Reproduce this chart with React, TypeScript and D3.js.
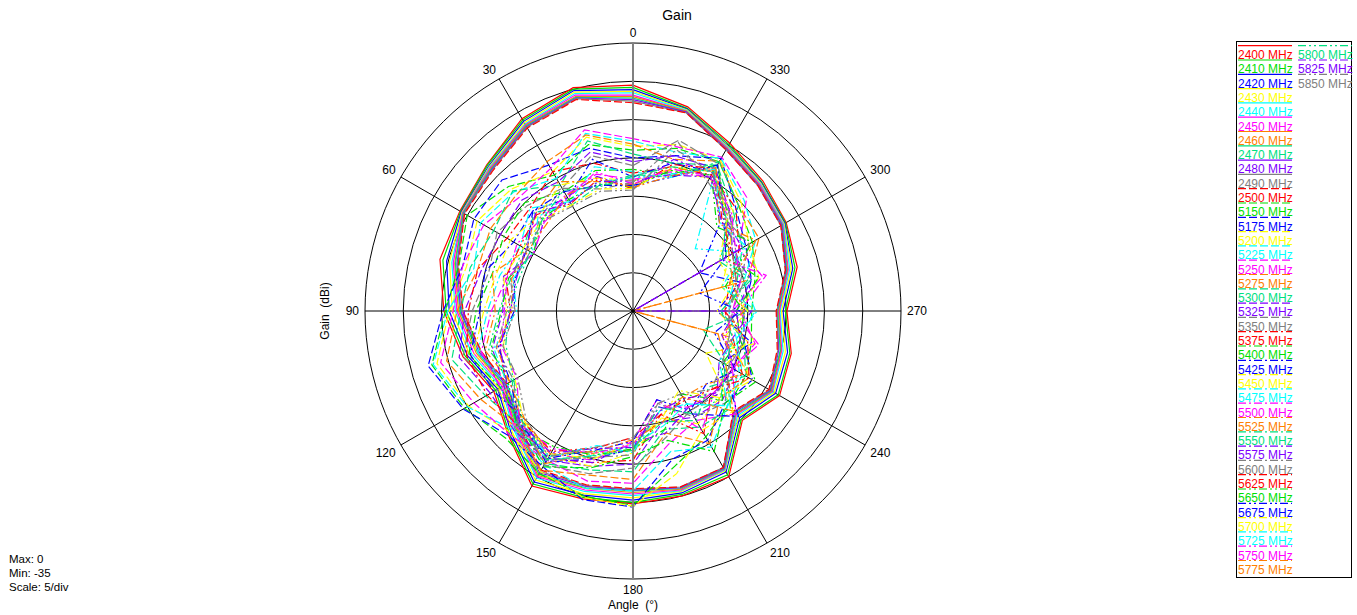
import React from 'react';
import * as d3 from 'd3';

// measurement angles (deg), counter-clockwise from top
const angles = [0, 15, 30, 45, 60, 75, 90, 105, 120, 135, 150, 165, 180, 195, 210, 225, 240, 255, 270, 285, 300, 315, 330, 345];
const angleTicks = [0, 30, 60, 90, 120, 150, 180, 210, 240, 270, 300, 330];
const ringTicks = [-30, -25, -20, -15, -10, -5, 0];

const freqLabels = [
  '2400 MHz', '2410 MHz', '2420 MHz', '2430 MHz', '2440 MHz', '2450 MHz', '2460 MHz', '2470 MHz', '2480 MHz', '2490 MHz', '2500 MHz',
  '5150 MHz', '5175 MHz', '5200 MHz', '5225 MHz', '5250 MHz', '5275 MHz', '5300 MHz', '5325 MHz', '5350 MHz', '5375 MHz',
  '5400 MHz', '5425 MHz', '5450 MHz', '5475 MHz', '5500 MHz', '5525 MHz', '5550 MHz', '5575 MHz', '5600 MHz', '5625 MHz',
  '5650 MHz', '5675 MHz', '5700 MHz', '5725 MHz', '5750 MHz', '5775 MHz', '5800 MHz', '5825 MHz', '5850 MHz',
];

// gain (dBi) per angle
const g2400 = [-5.5, -4.8, -6.0, -8.0, -8.9, -8.9, -10.3, -12.0, -14.0, -12.0, -8.6, -9.6, -9.8, -10.0, -10.0, -14.8, -12.9, -13.6, -14.9, -12.8, -11.9, -11.0, -9.7, -7.4];
const g2410 = [-5.8, -5.0, -6.2, -8.1, -9.0, -9.3, -10.6, -12.3, -14.3, -12.2, -8.9, -9.8, -10.0, -10.2, -10.3, -15.0, -13.1, -13.8, -15.1, -13.1, -12.0, -11.2, -9.9, -7.6];
const g2420 = [-6.1, -5.2, -6.4, -8.3, -9.1, -9.8, -11.0, -12.6, -14.6, -12.5, -9.2, -10.1, -10.3, -10.4, -10.7, -15.3, -13.5, -14.1, -15.4, -13.4, -12.1, -11.3, -10.1, -7.7];
const g2430 = [-6.3, -5.4, -6.6, -8.4, -9.2, -10.2, -11.4, -12.9, -14.8, -12.7, -9.5, -10.3, -10.6, -10.6, -10.9, -15.5, -13.7, -14.4, -15.6, -13.6, -12.2, -11.4, -10.2, -7.8];
const g2440 = [-6.5, -5.6, -6.8, -8.5, -9.3, -10.5, -11.8, -13.2, -15.1, -13.0, -9.8, -10.6, -10.9, -10.7, -11.0, -15.7, -13.9, -14.7, -15.8, -13.8, -12.3, -11.5, -10.3, -7.9];
const g2450 = [-6.8, -5.8, -6.9, -8.6, -9.3, -10.7, -12.0, -13.5, -15.3, -13.2, -10.0, -10.8, -11.1, -10.8, -11.1, -15.9, -14.0, -14.9, -15.9, -14.0, -12.4, -11.6, -10.4, -8.0];
const g2460 = [-7.0, -6.0, -7.0, -8.7, -9.4, -10.9, -12.2, -13.8, -15.5, -13.4, -10.2, -11.0, -11.3, -10.9, -11.2, -16.0, -14.1, -15.0, -16.0, -14.1, -12.5, -11.7, -10.5, -8.0];
const g2470 = [-7.2, -6.1, -7.1, -8.8, -9.4, -11.0, -12.4, -14.0, -15.6, -13.6, -10.4, -11.1, -11.5, -11.0, -11.2, -16.1, -14.2, -15.1, -16.1, -14.2, -12.5, -11.8, -10.6, -8.1];
const g2480 = [-7.4, -6.2, -7.2, -8.9, -9.5, -11.2, -12.5, -14.2, -15.8, -13.8, -10.6, -11.3, -11.6, -11.1, -11.3, -16.3, -14.3, -15.3, -16.2, -14.3, -12.6, -11.8, -10.6, -8.1];
const g2490 = [-7.6, -6.3, -7.3, -9.0, -9.5, -11.3, -12.7, -14.4, -15.9, -13.9, -10.8, -11.4, -11.7, -11.2, -11.4, -16.4, -14.4, -15.4, -16.2, -14.4, -12.7, -11.9, -10.7, -8.2];
const g2500 = [-7.8, -6.4, -7.4, -9.1, -9.6, -11.4, -12.8, -14.5, -16.0, -14.0, -11.0, -11.5, -11.8, -11.2, -11.4, -16.5, -14.5, -15.5, -16.3, -14.4, -12.7, -11.9, -10.7, -8.2];
const g5150 = [-14.0, -12.5, -14.5, -12.0, -10.0, -11.5, -10.5, -7.8, -9.6, -11.5, -10.5, -10.0, -9.6, -14.0, -16.0, -17.5, -18.0, -19.0, -19.5, -18.5, -17.0, -15.5, -12.5, -13.0];
const g5175 = [-15.0, -13.0, -13.0, -10.8, -11.0, -12.0, -10.2, -7.3, -9.4, -12.0, -11.5, -9.5, -9.4, -15.0, -15.5, -18.0, -17.0, -20.0, -20.5, -19.0, -18.0, -16.0, -12.0, -14.0];
const g5200 = [-13.5, -11.5, -14.0, -12.5, -11.5, -12.5, -11.0, -8.5, -10.2, -12.5, -10.8, -9.8, -9.5, -13.0, -17.0, -16.5, -24.0, -18.5, -21.0, -18.0, -17.5, -15.0, -12.2, -12.5];
const g5225 = [-12.8, -11.0, -15.0, -13.0, -12.0, -13.5, -10.8, -8.0, -10.0, -13.0, -11.8, -11.0, -11.5, -16.0, -14.5, -17.5, -18.5, -21.0, -19.0, -20.0, -16.5, -14.5, -12.0, -13.5];
const g5250 = [-12.5, -10.5, -13.5, -14.0, -12.5, -12.0, -11.5, -9.0, -11.0, -12.2, -12.5, -12.0, -12.5, -17.0, -18.5, -16.0, -20.0, -18.0, -22.0, -17.5, -19.0, -14.0, -11.8, -12.8];
const g5275 = [-13.2, -11.2, -12.5, -13.5, -13.5, -14.0, -12.0, -9.8, -12.0, -13.5, -11.0, -12.8, -13.0, -18.5, -15.0, -19.0, -17.5, -22.0, -35.0, -19.5, -16.0, -15.5, -12.4, -14.5];
const g5300 = [-14.5, -12.0, -16.0, -12.8, -14.0, -13.0, -12.5, -10.5, -12.8, -14.0, -12.0, -13.5, -14.0, -19.0, -17.5, -17.0, -21.0, -25.5, -20.0, -21.0, -18.5, -16.5, -13.0, -15.0];
const g5325 = [-15.5, -13.5, -15.5, -14.5, -15.0, -14.5, -13.0, -11.5, -13.5, -13.0, -12.5, -14.0, -15.0, -20.0, -19.0, -18.5, -19.5, -23.0, -21.5, -19.0, -20.0, -17.0, -13.5, -14.0];
const g5350 = [-16.0, -14.0, -16.5, -15.5, -14.5, -15.5, -14.0, -12.0, -14.5, -14.5, -11.8, -13.0, -14.5, -18.0, -20.0, -19.5, -20.5, -20.0, -22.5, -20.5, -17.5, -18.0, -12.8, -11.9];
const g5375 = [-17.0, -15.0, -14.0, -16.0, -16.0, -14.0, -13.5, -12.5, -13.0, -13.8, -12.8, -14.5, -15.5, -21.0, -16.5, -20.5, -18.5, -21.5, -23.0, -22.0, -19.0, -16.0, -14.5, -15.5];
const g5400 = [-16.5, -16.0, -17.0, -15.0, -15.5, -16.0, -14.5, -12.8, -15.0, -14.2, -11.5, -13.8, -16.0, -17.5, -13.8, -18.0, -16.5, -20.5, -21.5, -18.0, -21.0, -17.5, -13.0, -16.5];
const g5425 = [-17.5, -14.5, -18.0, -16.5, -17.0, -15.0, -15.0, -13.0, -14.0, -15.0, -12.2, -15.0, -17.0, -22.0, -19.5, -15.5, -21.5, -19.0, -24.0, -20.5, -25.0, -19.0, -14.0, -15.0];
const g5450 = [-18.0, -17.0, -16.0, -17.5, -16.5, -16.5, -15.5, -13.5, -15.5, -14.8, -13.0, -14.0, -16.5, -20.5, -18.0, -19.0, -17.0, -22.5, -20.0, -23.0, -20.5, -16.5, -15.0, -16.0];
const g5475 = [-16.8, -15.5, -18.5, -16.0, -18.0, -17.0, -16.0, -14.0, -16.0, -14.0, -12.5, -15.5, -17.5, -19.5, -21.0, -17.5, -19.0, -21.0, -22.5, -21.5, -19.5, -23.5, -13.2, -17.0];
const g5500 = [-17.8, -16.5, -17.5, -18.0, -17.5, -18.0, -16.5, -14.5, -15.0, -13.5, -13.5, -14.8, -18.0, -23.0, -17.0, -20.0, -20.0, -18.5, -21.0, -17.0, -21.5, -17.5, -14.8, -16.2];
const g5525 = [-18.5, -17.5, -15.5, -17.0, -19.0, -16.0, -17.0, -15.0, -16.5, -14.5, -12.0, -15.8, -16.8, -21.5, -22.0, -16.5, -21.0, -23.5, -35.0, -22.0, -16.5, -19.0, -13.8, -15.8];
const g5550 = [-17.2, -18.0, -19.0, -16.8, -18.5, -18.5, -17.5, -15.5, -16.8, -13.2, -13.2, -16.0, -17.2, -20.0, -18.5, -21.0, -18.0, -20.0, -23.5, -19.5, -22.0, -15.5, -12.5, -16.8];
const g5575 = [-19.0, -16.8, -17.8, -18.5, -20.0, -17.5, -18.0, -16.0, -15.5, -14.0, -12.8, -14.5, -17.8, -18.5, -20.5, -19.5, -22.0, -21.5, -19.5, -35.0, -18.5, -18.0, -14.2, -14.5];
const g5600 = [-18.2, -18.5, -16.5, -17.8, -19.5, -19.0, -18.5, -16.5, -17.0, -13.8, -12.5, -15.2, -16.2, -22.5, -19.0, -18.0, -20.5, -22.0, -22.0, -20.0, -19.5, -17.0, -15.5, -12.2];
const g5625 = [-19.0, -17.2, -18.8, -17.2, -18.0, -17.8, -19.0, -17.0, -15.8, -14.6, -13.8, -16.5, -18.5, -21.0, -21.5, -20.5, -17.5, -19.5, -23.0, -21.0, -20.0, -18.5, -13.5, -15.2];
const g5650 = [-18.8, -17.8, -18.2, -18.0, -20.0, -18.2, -17.8, -15.8, -16.2, -13.6, -14.5, -15.5, -17.0, -19.0, -22.5, -18.5, -21.5, -20.5, -20.5, -22.5, -17.0, -19.5, -14.5, -16.0];
const g5675 = [-18.6, -18.0, -17.0, -16.5, -19.0, -19.0, -19.5, -16.8, -16.5, -14.2, -12.8, -16.2, -18.0, -23.0, -20.0, -21.5, -19.5, -24.0, -21.0, -26.0, -21.0, -18.2, -13.0, -17.0];
const g5700 = [-19.0, -18.5, -19.0, -18.2, -18.5, -17.5, -18.5, -17.5, -17.2, -14.8, -13.5, -15.0, -17.8, -20.5, -23.0, -19.0, -21.0, -19.5, -24.0, -21.5, -22.0, -17.5, -14.0, -15.5];
const g5725 = [-17.6, -17.5, -18.5, -17.5, -19.8, -18.8, -19.8, -16.2, -16.0, -14.4, -13.0, -16.8, -16.5, -21.5, -21.0, -17.5, -22.0, -21.0, -18.8, -23.0, -18.0, -18.8, -13.6, -16.5];
const g5750 = [-18.4, -16.2, -18.0, -18.6, -20.0, -18.0, -18.2, -17.2, -17.5, -14.0, -14.2, -15.8, -17.5, -22.0, -20.5, -20.0, -20.0, -22.5, -22.0, -20.5, -19.5, -16.8, -14.6, -15.8];
const g5775 = [-18.9, -17.0, -17.6, -19.0, -19.2, -18.6, -19.2, -16.6, -16.4, -15.0, -13.4, -16.0, -18.2, -20.0, -22.0, -21.5, -18.5, -23.0, -20.5, -21.5, -20.5, -18.0, -13.4, -16.8];
const g5800 = [-17.4, -18.2, -16.8, -18.2, -19.5, -19.5, -18.8, -17.8, -17.0, -14.6, -12.6, -15.4, -16.8, -22.0, -19.5, -18.8, -21.0, -21.5, -23.5, -19.0, -21.5, -17.8, -14.0, -15.5];
const g5825 = [-18.0, -17.5, -18.6, -17.0, -18.8, -19.2, -19.0, -17.0, -16.0, -14.2, -13.6, -16.4, -17.2, -21.5, -21.8, -19.8, -19.8, -20.5, -21.5, -35.0, -19.0, -18.6, -14.8, -16.6];
const g5850 = [-19.2, -18.8, -19.2, -18.4, -19.0, -18.4, -19.6, -17.4, -17.6, -15.2, -13.0, -16.6, -18.4, -22.5, -22.5, -20.5, -21.5, -22.0, -22.5, -21.0, -20.0, -17.2, -14.2, -13.2];

const seriesValues = [
  g2400, g2410, g2420, g2430, g2440, g2450, g2460, g2470, g2480, g2490, g2500,
  g5150, g5175, g5200, g5225, g5250, g5275, g5300, g5325, g5350, g5375,
  g5400, g5425, g5450, g5475, g5500, g5525, g5550, g5575, g5600, g5625,
  g5650, g5675, g5700, g5725, g5750, g5775, g5800, g5825, g5850,
];

const palette = ['#ff0000', '#00e000', '#0000ff', '#ffff00', '#00ffff', '#ff00ff', '#ff8000', '#00e080', '#8000ff', '#808080'];
const dashes = ['none', '8,3', '8,3,2,3', '8,3,2,3,2,3'];

const W = 1357;
const H = 615;
const cx = 633;
const cy = 311;
const R = 268;
const font = 'Arial, "Liberation Sans", sans-serif';

export default function App() {
  const rScale = d3.scaleLinear().domain([-35, 0]).range([0, R]).clamp(true);
  const toRad = (deg: number) => (deg * Math.PI) / 180;

  const line = d3
    .lineRadial<number>()
    .angle((d, i) => -toRad(angles[i]))
    .radius((d) => rScale(d))
    .curve(d3.curveLinearClosed);

  const colorOf = (i: number) => palette[i % palette.length];
  const dashOf = (i: number) => dashes[Math.floor(i / 10)];

  const rowH = 14.3;
  const legTop = 45.7;

  return (
    <svg width={W} height={H} style={{ position: 'absolute', left: 0, top: 0, background: '#fff' }} fontFamily={font}>
      <text x={677} y={20} fontSize={14} textAnchor="middle">Gain</text>

      <g transform={`translate(${cx},${cy})`}>
        {ringTicks.map((t) => (
          <circle key={t} r={rScale(t)} fill="none" stroke="#000" strokeWidth={1} />
        ))}
        {angleTicks.map((a) => {
          const th = toRad(a);
          return (
            <line key={a} x1={0} y1={0} x2={-R * Math.sin(th)} y2={-R * Math.cos(th)} stroke="#000" strokeWidth={1} />
          );
        })}
        {seriesValues.map((vals, i) => (
          <path
            key={freqLabels[i]}
            d={line(vals) || ''}
            fill="none"
            stroke={colorOf(i)}
            strokeWidth={1.2}
            strokeDasharray={dashOf(i)}
          />
        ))}
        <line x1={0} y1={-R} x2={0} y2={R} stroke="#808080" strokeWidth={2} />
        <circle r={2} fill="#000" />
        {angleTicks.map((a) => {
          const th = toRad(a);
          const sx = -Math.sin(th);
          const sy = -Math.cos(th);
          const rr = R + 6;
          const anchor = sx > 0.1 ? 'start' : sx < -0.1 ? 'end' : 'middle';
          const dy = sy < -0.1 ? 0 : sy > 0.1 ? 9 : 4;
          return (
            <text key={a} x={rr * sx} y={rr * sy + dy} fontSize={12} textAnchor={anchor}>
              {a}
            </text>
          );
        })}
      </g>

      <text
        transform={`translate(329,${cy}) rotate(-90)`}
        fontSize={12}
        textAnchor="middle"
        style={{ whiteSpace: 'pre' }}
      >
        {'Gain  (dBi)'}
      </text>
      <text x={cx} y={609} fontSize={12} textAnchor="middle" style={{ whiteSpace: 'pre' }}>
        {'Angle  (°)'}
      </text>

      <text x={9} y={563} fontSize={11.5}>Max: 0</text>
      <text x={9} y={577} fontSize={11.5}>Min: -35</text>
      <text x={9} y={591} fontSize={11.5}>Scale: 5/div</text>

      <rect x={1236.5} y={41.5} width={115} height={536} fill="#fff" stroke="#000" strokeWidth={1} />
      {freqLabels.map((lab, i) => {
        const col = i < 37 ? 0 : 1;
        const row = col === 0 ? i : i - 37;
        const x0 = col === 0 ? 1238 : 1298;
        const y = legTop + row * rowH;
        return (
          <g key={lab}>
            <line x1={x0} x2={x0 + 54} y1={y} y2={y} stroke={colorOf(i)} strokeWidth={1.2} strokeDasharray={dashOf(i)} />
            <text x={x0} y={y + 13.3} fontSize={12} fill={colorOf(i)}>{lab}</text>
          </g>
        );
      })}
    </svg>
  );
}
